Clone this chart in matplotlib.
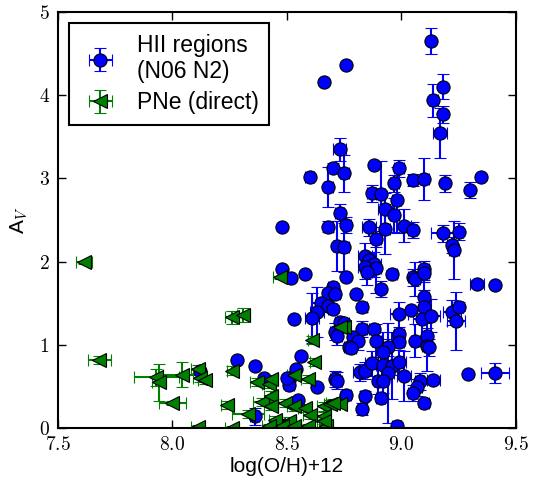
import matplotlib
matplotlib.use("Agg")
import matplotlib.pyplot as plt
from matplotlib.ticker import FuncFormatter
import numpy as np

plt.rcParams['mathtext.fontset'] = 'cm'
plt.rcParams['font.family'] = ['Liberation Sans', 'DejaVu Sans']

# HII regions (N06 N2): log(O/H)+12, A_V and their errors
hii_oh = [9.13, 8.76, 8.66, 9.18, 9.14, 9.18, 9.17, 8.73, 8.70, 8.75, 8.60, 8.68, 8.88, 8.99, 8.97,
          9.05, 9.10, 9.19, 9.30, 9.35, 8.87, 8.91, 8.98, 8.93, 8.97, 8.73, 8.48, 8.68, 8.76, 8.86,
          8.93, 9.01, 9.05, 9.18, 9.25, 9.22, 9.23, 8.89, 8.72, 8.75, 8.84, 8.86, 8.88, 8.84, 8.89,
          8.85, 8.48, 8.52, 8.58, 8.76, 8.96, 8.91, 9.05, 9.06, 9.10, 9.10, 9.33, 9.41, 8.70, 8.68,
          8.71, 8.80, 8.65, 8.68, 8.70, 8.63, 8.61, 8.53, 8.83, 9.10, 9.10, 9.09, 9.13, 8.99, 9.04,
          9.22, 9.25, 9.24, 8.73, 8.75, 8.71, 8.72, 8.83, 8.88, 8.79, 8.81, 8.89, 8.77, 8.78, 8.99,
          8.99, 9.06, 9.11, 9.11, 9.12, 8.94, 8.92, 8.56, 8.36, 8.28, 8.54, 8.63, 8.51, 8.51, 8.71,
          8.72, 8.82, 8.84, 8.87, 8.92, 8.96, 8.99, 8.94, 8.90, 8.92, 9.01, 9.08, 9.07, 9.05, 9.14,
          9.10, 9.29, 9.41, 8.76, 8.84, 8.91, 8.83, 8.98, 8.55, 8.12, 8.36, 8.40, 8.50]
hii_av = [4.65, 4.36, 4.16, 4.10, 3.94, 3.77, 3.55, 3.35, 3.13, 3.06, 3.02, 2.90, 3.16, 3.12, 2.94,
          2.98, 2.99, 2.94, 2.86, 3.02, 2.82, 2.81, 2.74, 2.63, 2.56, 2.59, 2.42, 2.42, 2.44, 2.41,
          2.39, 2.43, 2.38, 2.34, 2.36, 2.20, 2.14, 2.27, 2.19, 2.17, 2.07, 2.02, 1.97, 1.94, 1.92,
          1.87, 1.91, 1.80, 1.85, 1.82, 1.85, 1.67, 1.81, 1.79, 1.91, 1.86, 1.73, 1.72, 1.69, 1.62,
          1.61, 1.61, 1.50, 1.47, 1.43, 1.39, 1.32, 1.31, 1.45, 1.58, 1.46, 1.31, 1.35, 1.37, 1.42,
          1.39, 1.46, 1.29, 1.27, 1.26, 1.16, 1.10, 1.19, 1.19, 1.09, 1.04, 1.05, 0.97, 0.96, 1.13,
          1.03, 1.05, 1.10, 0.99, 0.97, 0.97, 0.91, 0.86, 0.75, 0.82, 0.71, 0.49, 0.58, 0.52, 0.59,
          0.57, 0.67, 0.69, 0.78, 0.76, 0.75, 0.79, 0.66, 0.56, 0.57, 0.62, 0.56, 0.49, 0.42, 0.58,
          0.30, 0.65, 0.66, 0.40, 0.39, 0.36, 0.23, 0.02, 0.34, 0.68, 0.14, 0.60, 0.60]
hii_oh_err = [0.01, 0, 0, 0.01, 0.02, 0.01, 0.03, 0.03, 0, 0.02, 0.02, 0.02, 0, 0.02, 0.02,
              0.02, 0.02, 0.01, 0.01, 0, 0.02, 0.02, 0.02, 0.03, 0.02, 0.02, 0, 0.02, 0.02, 0.03,
              0.02, 0.03, 0.02, 0.05, 0.02, 0.02, 0.02, 0.02, 0.02, 0.02, 0.03, 0.03, 0.03, 0.03, 0.02,
              0.02, 0, 0, 0, 0, 0.02, 0, 0.02, 0.02, 0.02, 0.02, 0.03, 0, 0.02, 0.02,
              0.02, 0, 0.04, 0.02, 0.02, 0.03, 0.03, 0, 0.02, 0.02, 0.02, 0.04, 0.04, 0.04, 0,
              0.04, 0.02, 0.04, 0.02, 0.02, 0.02, 0.02, 0.02, 0.02, 0.02, 0.02, 0.02, 0.02, 0.02, 0.02,
              0.02, 0.02, 0.02, 0.02, 0.02, 0.02, 0.02, 0, 0, 0, 0, 0, 0.02, 0.02, 0.02,
              0.02, 0.03, 0.03, 0.03, 0.03, 0.03, 0.03, 0.03, 0.02, 0.02, 0.03, 0.02, 0.02, 0.02, 0.03,
              0.02, 0, 0.06, 0.02, 0.02, 0.02, 0.02, 0.02, 0, 0, 0.02, 0, 0]
hii_av_err = [0.16, 0, 0, 0.15, 0.2, 0.1, 0.3, 0.14, 0.05, 0.22, 0.03, 0.24, 0, 0.1, 0.1,
              0.07, 0.25, 0.1, 0.1, 0, 0.1, 0.4, 0.4, 0.2, 0.2, 0.1, 0, 0.07, 0.1, 0.1,
              0.3, 0.2, 0.1, 0.1, 0.1, 0.1, 0.35, 0.1, 0.3, 0.3, 0.15, 0.1, 0.15, 0.15, 0.3,
              0.15, 0, 0, 0, 0, 0.05, 0.1, 0.1, 0.2, 0.1, 0.1, 0.05, 0, 0.05, 0.05,
              0.05, 0, 0.05, 0.05, 0.05, 0.3, 0.3, 0, 0.05, 0.2, 0.2, 0.2, 0.2, 0.15, 0,
              0.15, 0.05, 0.35, 0.05, 0.05, 0.1, 0.1, 0.1, 0.05, 0.05, 0.1, 0.2, 0.05, 0.05, 0.05,
              0.05, 0.2, 0.1, 0.3, 0.1, 0.1, 0.1, 0, 0, 0, 0, 0, 0.05, 0.05, 0.1,
              0.1, 0.1, 0.1, 0.15, 0.4, 0.4, 0.15, 0.6, 0.15, 0.15, 0.3, 0.1, 0.1, 0.1, 0.05,
              0.05, 0, 0.12, 0.05, 0.05, 0.05, 0.07, 0.05, 0, 0, 0.1, 0, 0]

# PNe (direct abundances)
pne_oh = [7.615, 8.47, 8.26, 8.31, 7.68, 7.93, 7.94, 8.04, 8.11, 8.12, 8.14, 8.00, 8.26, 8.24, 8.33,
          8.37, 8.42, 8.43, 8.39, 8.43, 8.43, 8.49, 8.53, 8.11, 8.26, 8.46, 8.51, 8.75, 8.61, 8.62,
          8.59, 8.53, 8.58, 8.66, 8.69, 8.73, 8.45, 8.51, 8.60, 8.66, 8.42, 8.48, 8.53, 8.59, 8.67,
          8.70, 8.66, 8.73]
pne_av = [1.99, 1.81, 1.33, 1.36, 0.82, 0.61, 0.55, 0.64, 0.71, 0.60, 0.58, 0.30, 0.69, 0.28, 0.17,
          0.55, 0.53, 0.59, 0.31, 0.39, 0.27, 0.30, 0.64, 0.01, 0.00, 0.04, 0.06, 1.22, 1.06, 0.79,
          0.59, 0.26, 0.24, 0.26, 0.29, 0.29, 0.10, 0.08, 0.16, 0.14, 0.02, 0.02, 0.02, 0.02, 0.02,
          0.30, 0.08, 1.21]
pne_oh_err = [0.035, 0.03, 0.03, 0.03, 0.05, 0.10, 0.03, 0.08, 0.03, 0.03, 0.03, 0.06, 0.02, 0.03, 0.07,
              0.03, 0.03, 0.03, 0.04, 0.03, 0.03, 0.03, 0.03, 0.03, 0.03, 0.03, 0.03, 0.02, 0.02, 0.02,
              0.03, 0.03, 0.03, 0.03, 0.03, 0.03, 0.03, 0.03, 0.03, 0.03, 0.03, 0.03, 0.03, 0.03, 0.03,
              0.03, 0.03, 0.02]
pne_av_err = [0.02, 0.02, 0.08, 0.08, 0.05, 0.1, 0.22, 0.15, 0.05, 0.05, 0.05, 0.02, 0.05, 0.05, 0.05,
              0.05, 0.05, 0.05, 0.05, 0.05, 0.05, 0.05, 0.05, 0.03, 0.03, 0.03, 0.03, 0.03, 0.05, 0.05,
              0.05, 0.05, 0.05, 0.05, 0.05, 0.05, 0.05, 0.05, 0.05, 0.05, 0.03, 0.03, 0.03, 0.03, 0.03,
              0.05, 0.03, 0.03]

fig = plt.figure(figsize=(5.39, 4.80), dpi=100)
ax = fig.add_axes([0.1076, 0.1083, 0.8494, 0.8667])

ax.errorbar(hii_oh, hii_av, xerr=hii_oh_err, yerr=hii_av_err, fmt='o', color='b', ecolor='b',
            mfc='b', mec='k', ms=9.5, mew=0.8, capsize=4, elinewidth=1.5, capthick=1.5,
            label='HII regions\n(N06 N2)')
ax.errorbar(pne_oh, pne_av, xerr=pne_oh_err, yerr=pne_av_err, fmt='<', color='g', ecolor='g',
            mfc='g', mec='k', ms=9.5, mew=0.8, capsize=4, elinewidth=1.5, capthick=1.5,
            label='PNe (direct)')

ax.set_xlim(7.5, 9.5)
ax.set_ylim(0, 5)
ax.set_xticks([7.5, 8.0, 8.5, 9.0, 9.5])
ax.set_yticks([0, 1, 2, 3, 4, 5])
ax.xaxis.set_major_formatter(FuncFormatter(lambda v, p: '$%.1f$' % v))
ax.yaxis.set_major_formatter(FuncFormatter(lambda v, p: '$%d$' % v))
ax.tick_params(direction='in', top=True, right=True, length=6, width=1, labelsize=14, pad=6)
for s in ax.spines.values():
    s.set_linewidth(1.5)

ax.set_xlabel('log(O/H)+12', fontsize=15, labelpad=2)
ax.set_ylabel('A$_V$', fontsize=15, labelpad=6)

leg = ax.legend(loc='upper left', fontsize=16.5, fancybox=False, framealpha=1, edgecolor='k',
                borderpad=0.45, handlelength=1.8, handletextpad=0.7, labelspacing=0.35,
                bbox_to_anchor=(0.0, 1.0), borderaxespad=0.5)
leg.get_frame().set_linewidth(1.5)

fig.savefig('out.png', dpi=100)
